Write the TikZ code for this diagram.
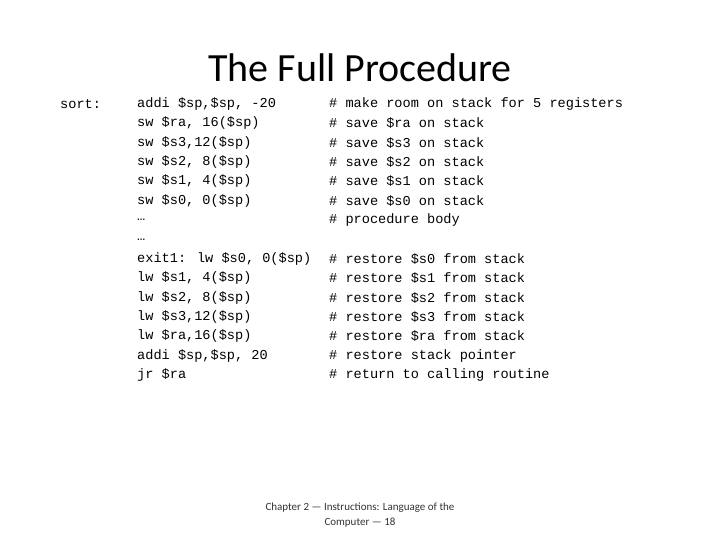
\documentclass[tikz,border=0pt]{standalone}
\usepackage{fontspec}
\setmainfont{Carlito}
\newfontfamily\codefont{Liberation Mono}
\begin{document}
\begin{tikzpicture}[x=1pt,y=-1pt,
  code/.style={anchor=west,inner sep=0pt,font=\codefont\fontsize{13.6}{14}\selectfont},
  foot/.style={inner sep=0pt,font=\fontsize{11}{13}\selectfont,text=black!80}]
\useasboundingbox (0,0) rectangle (720,540);
\node[inner sep=0pt,font=\fontsize{40}{44}\selectfont] (title) at (360,68) {The Full Procedure};
\node[code] (lbl) at (60,104) {sort:};
\def\rows{{"addi \$sp,\$sp, -20","sw \$ra, 16(\$sp)","sw \$s3,12(\$sp)","sw \$s2, 8(\$sp)","sw \$s1, 4(\$sp)","sw \$s0, 0(\$sp)"}}
\foreach \t [count=\i] in {addi \$sp{,}\$sp{,} -20, sw \$ra{,} 16(\$sp), sw \$s3{,}12(\$sp), sw \$s2{,} 8(\$sp), sw \$s1{,} 4(\$sp), sw \$s0{,} 0(\$sp), …, …, exit1: lw \$s0{,} 0(\$sp), lw \$s1{,} 4(\$sp), lw \$s2{,} 8(\$sp), lw \$s3{,}12(\$sp), lw \$ra{,}16(\$sp), addi \$sp{,}\$sp{,} 20, jr \$ra}
  \node[code] (c\i) at (137,{104+(\i-1)*19.36}) {\t};
\foreach \t/\i in {make room on stack for 5 registers/1, save \$ra on stack/2, save \$s3 on stack/3, save \$s2 on stack/4, save \$s1 on stack/5, save \$s0 on stack/6, procedure body/7, restore \$s0 from stack/9, restore \$s1 from stack/10, restore \$s2 from stack/11, restore \$s3 from stack/12, restore \$ra from stack/13, restore stack pointer/14, return to calling routine/15}
  \node[code] (m\i) at (329,{104+(\i-1)*19.36}) {\#\ \t};
\node[foot] (f1) at (360,508) {Chapter 2 — Instructions: Language of the};
\node[foot] (f2) at (360,523) {Computer — 18};
\end{tikzpicture}
\end{document}
